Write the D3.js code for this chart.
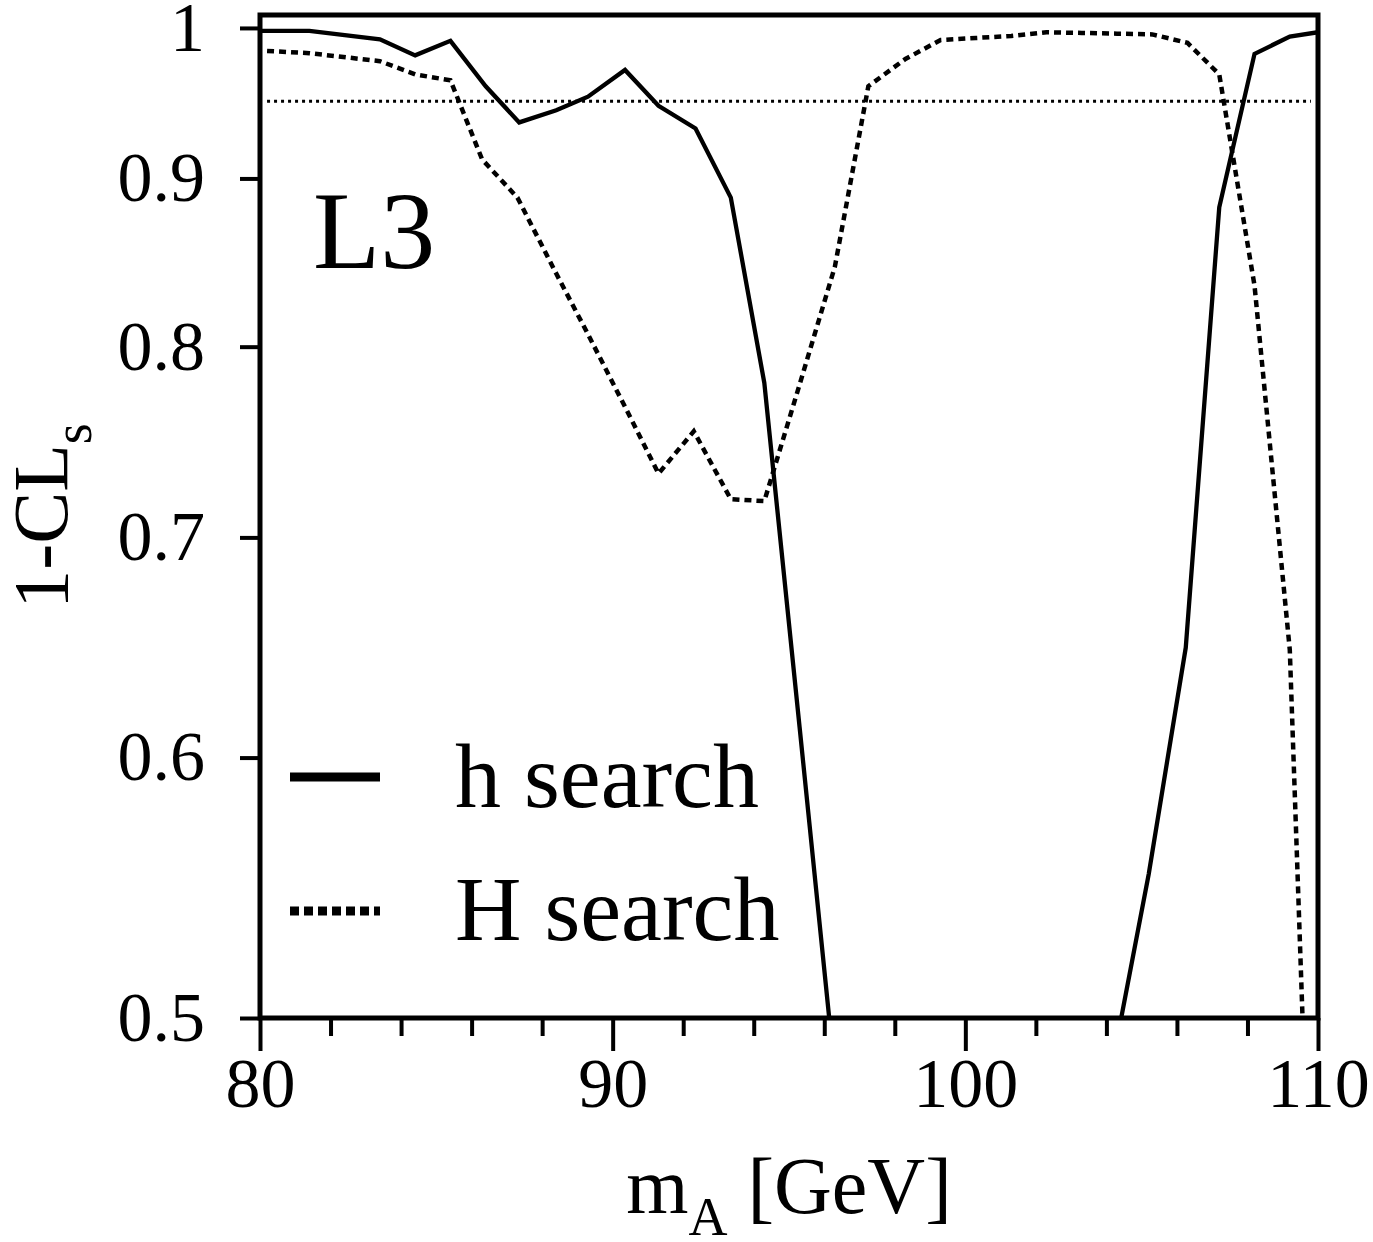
<!DOCTYPE html>
<html><head><meta charset="utf-8">
<script src="https://cdn.jsdelivr.net/npm/d3@7"></script>
<style>
body{margin:0;background:#fff}
text{font-family:"Liberation Serif","Times New Roman",serif;fill:#000}
</style>
</head><body>
<svg id="c" width="1373" height="1242"></svg>
<script>
// h search (solid)
const massLight = [80.05, 81.4, 83.4, 84.4, 85.4, 86.4, 87.35, 88.4, 89.3, 90.35, 91.3, 92.35, 93.35, 94.3, 95.3, 96.3, 104.2, 105.2, 106.25, 107.2, 108.2, 109.2, 110.0];
const clsLight  = [0.998, 0.998, 0.992, 0.981, 0.991, 0.960, 0.936, 0.944, 0.953, 0.971, 0.947, 0.932, 0.888, 0.780, 0.613, 0.481, 0.486, 0.553, 0.648, 0.882, 0.982, 0.994, 0.997];
// H search (dashed)
const massHeavy = [80.2, 81.4, 83.4, 84.4, 85.4, 86.3, 87.3, 88.4, 89.3, 90.35, 91.3, 92.3, 93.35, 94.3, 95.3, 96.3, 97.25, 98.3, 99.3, 100.3, 101.3, 102.3, 103.3, 104.3, 105.3, 106.3, 107.2, 108.2, 109.2, 110.0];
const clsHeavy  = [0.984, 0.9825, 0.977, 0.968, 0.964, 0.912, 0.888, 0.842, 0.807, 0.767, 0.732, 0.754, 0.719, 0.718, 0.779, 0.846, 0.960, 0.9785, 0.9916, 0.993, 0.9944, 0.997, 0.9965, 0.996, 0.9955, 0.9896, 0.968, 0.835, 0.647, 0.366];
const seriesNames = ["h search", "H search"];
const xMajorTicks = [80, 90, 100, 110];
const xMinorTicks = [82, 84, 86, 88, 92, 94, 96, 98, 102, 104, 106, 108];
const yTicks = [0.5, 0.6, 0.7, 0.8, 0.9, 1];
const yTickLabels = ["0.5", "0.6", "0.7", "0.8", "0.9", "1"];
const clLevel = 0.95;
const clRange = [80.2, 109.8];
const xDomain = [80, 110];
const yDomain = [0.5, 1.0091];

const svg = d3.select("#c");
const L = 260, R = 1318, T = 15, B = 1018;
const x = d3.scaleLinear().domain(xDomain).range([L, R]);
const y = d3.scaleLog().domain(yDomain).range([B, T]);

svg.append("defs").append("clipPath").attr("id", "clip")
  .append("rect").attr("x", L).attr("y", T).attr("width", R - L).attr("height", B - T);

// axes
const xMajor = d3.axisBottom(x).tickValues(xMajorTicks).tickSize(33).tickPadding(6).tickFormat(d3.format("d"));
const gx = svg.append("g").attr("transform", `translate(0,${B})`).call(xMajor);
const xMinor = d3.axisBottom(x).tickValues(xMinorTicks).tickSize(18).tickFormat("");
const gx2 = svg.append("g").attr("transform", `translate(0,${B})`).call(xMinor);
const yAxis = d3.axisLeft(y).tickValues(yTicks).tickSize(20).tickPadding(35)
  .tickFormat((d, i) => yTickLabels[i]);
const gy = svg.append("g").attr("transform", `translate(${L},0)`).call(yAxis);
[gx, gx2, gy].forEach(g => {
  g.select(".domain").remove();
  g.selectAll(".tick line").attr("stroke", "#000").attr("stroke-width", 4);
  g.selectAll(".tick text").attr("font-size", 70).attr("font-family", "Liberation Serif").attr("fill", "#000");
});

const plot = svg.append("g").attr("clip-path", "url(#clip)");

// 95% CL reference line
plot.append("line")
  .attr("x1", x(clRange[0])).attr("x2", x(clRange[1]))
  .attr("y1", y(clLevel)).attr("y2", y(clLevel))
  .attr("stroke", "#000").attr("stroke-width", 3).attr("stroke-dasharray", "3,4");

const line = d3.line().x(d => x(d[0])).y(d => y(d[1]));
plot.append("path").datum(massHeavy.map((m, i) => [m, clsHeavy[i]]))
  .attr("d", line).attr("fill", "none").attr("stroke", "#000")
  .attr("stroke-width", 4.5).attr("stroke-dasharray", "7,5");
plot.append("path").datum(massLight.map((m, i) => [m, clsLight[i]]))
  .attr("d", line).attr("fill", "none").attr("stroke", "#000")
  .attr("stroke-width", 4.3).attr("stroke-linejoin", "miter");

// frame
svg.append("rect").attr("x", L).attr("y", T).attr("width", R - L).attr("height", B - T)
  .attr("fill", "none").attr("stroke", "#000").attr("stroke-width", 5);

// L3 label
svg.append("text").attr("x", 313).attr("y", 268).attr("font-size", 110).text("L3");

// legend
const leg = svg.append("g");
leg.append("line").attr("x1", 290).attr("x2", 380).attr("y1", 777).attr("y2", 777)
  .attr("stroke", "#000").attr("stroke-width", 9);
leg.append("line").attr("x1", 290).attr("x2", 380).attr("y1", 911).attr("y2", 911)
  .attr("stroke", "#000").attr("stroke-width", 9).attr("stroke-dasharray", "9,5");
leg.append("text").attr("x", 455).attr("y", 807).attr("font-size", 92).text(seriesNames[0]);
leg.append("text").attr("x", 455).attr("y", 940).attr("font-size", 92).text(seriesNames[1]);

// axis titles
const xt = svg.append("text").attr("x", (L + R) / 2).attr("y", 1213).attr("text-anchor", "middle").attr("font-size", 80);
xt.append("tspan").text("m");
xt.append("tspan").attr("font-size", 54).attr("dy", 22).text("A");
xt.append("tspan").attr("dy", -22).text(" [GeV]");

const yt = svg.append("text").attr("transform", "translate(67,516) rotate(-90)")
  .attr("text-anchor", "middle").attr("font-size", 78);
yt.append("tspan").text("1-CL");
yt.append("tspan").attr("font-size", 54).attr("dy", 24).text("s");
</script>
</body></html>
